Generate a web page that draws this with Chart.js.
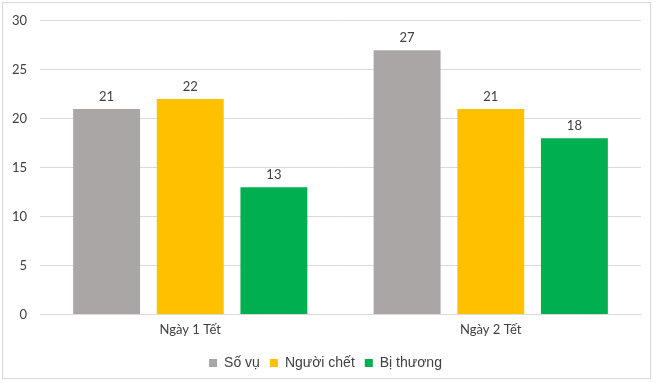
<!DOCTYPE html>
<html>
<head>
<meta charset="utf-8">
<script src="https://cdn.jsdelivr.net/npm/chart.js@4"></script>
<style>
  body { margin: 0; background: #fff; }
</style>
</head>
<body>
<canvas id="myChart" width="660" height="383"></canvas>
<script>
const categories = ['Ngày 1 Tết', 'Ngày 2 Tết']
const soVu = [21, 27]
const nguoiChet = [22, 21]
const biThuong = [13, 18]
const yTicks = [0, 5, 10, 15, 20, 25, 30]

// so lieu tren dau cot
const barLabels = {
    id: 'barLabels',
    afterDatasetsDraw(chart) {
        const ctx = chart.ctx
        ctx.save()
        ctx.font = '13px Lato, "DejaVu Sans", sans-serif'
        ctx.fillStyle = '#404040'
        ctx.textAlign = 'center'
        ctx.textBaseline = 'bottom'
        chart.data.datasets.forEach((ds, i) => {
            chart.getDatasetMeta(i).data.forEach((bar, j) => {
                ctx.fillText(ds.data[j], bar.x, bar.y - 6)
            })
        })
        ctx.restore()
    }
}

const frame = {
    id: 'frame',
    beforeDraw(chart) {
        const ctx = chart.ctx
        ctx.save()
        ctx.fillStyle = '#fff'
        ctx.fillRect(0, 0, chart.width, chart.height)
        ctx.strokeStyle = '#d9d9d9'
        ctx.lineWidth = 1
        ctx.strokeRect(2.5, 2.5, 648, 376)
        ctx.restore()
    }
}

const ctx = document.getElementById('myChart').getContext('2d')

const data = {
    labels: categories,
    datasets: [{
        label: 'Số vụ',
        data: soVu,
        backgroundColor: '#aaa6a5'
    },
    {
        label: 'Người chết',
        data: nguoiChet,
        backgroundColor: '#ffc000'
    },
    {
        label: 'Bị thương',
        data: biThuong,
        backgroundColor: '#00b050'
    }]
}

const config = {
    type: 'bar',
    data,
    options: {
        responsive: false,
        animation: false,
        categoryPercentage: 0.835,
        barPercentage: 0.8,
        layout: { padding: { left: 10, right: 19, top: 10, bottom: 3 } },
        plugins: {
            tooltip: { enabled: false },
            legend: {
                position: 'bottom',
                labels: {
                    boxWidth: 8,
                    boxHeight: 8,
                    padding: 10,
                    color: '#404040',
                    font: { family: '"Liberation Sans", Arial, sans-serif', size: 14 }
                }
            }
        },
        scales: {
            x: {
                grid: { display: false, drawTicks: false },
                border: { color: '#d9d9d9' },
                ticks: {
                    padding: 8,
                    color: '#404040',
                    font: { family: 'Lato, sans-serif', size: 13 }
                }
            },
            y: {
                min: 0,
                max: 30,
                afterFit(scale) { scale.width = 30 },
                afterBuildTicks(scale) { scale.ticks = yTicks.map(v => ({ value: v })) },
                grid: { color: '#d9d9d9', drawTicks: false },
                border: { display: false },
                ticks: {
                    padding: 13,
                    color: '#404040',
                    font: { family: 'Lato, sans-serif', size: 13 }
                }
            }
        }
    },
    plugins: [frame, barLabels]
}

const myChart = new Chart(ctx, config)
</script>
</body>
</html>
